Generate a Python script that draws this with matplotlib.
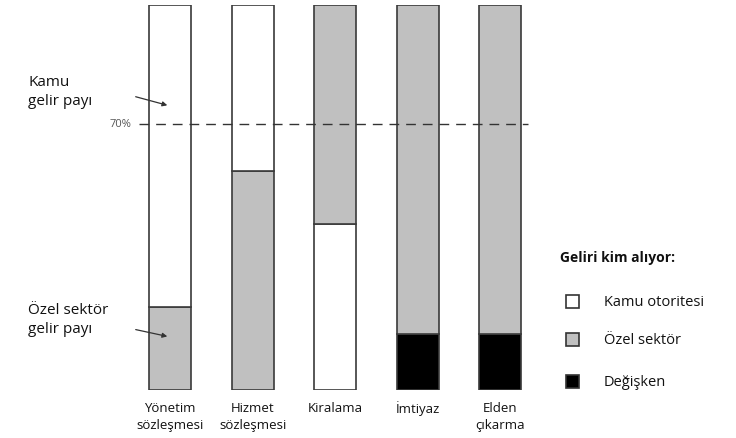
import matplotlib
matplotlib.use("Agg")
import matplotlib.pyplot as plt
from matplotlib.patches import Rectangle, FancyArrowPatch

plt.rcParams['font.family'] = ['Open Sans', 'DejaVu Sans']

categories = ["Yönetim\nsözleşmesi", "Hizmet\nsözleşmesi", "Kiralama", "İmtiyaz", "Elden\nçıkarma"]
kamu = [0.785, 0.43, 0.43, 0.0, 0.0]
ozel = [0.215, 0.57, 0.57, 0.855, 0.855]
degisken = [0.0, 0.0, 0.0, 0.145, 0.145]
stack_order = [["ozel", "kamu"], ["ozel", "kamu"], ["kamu", "ozel"],
               ["degisken", "ozel"], ["degisken", "ozel"]]
threshold = 0.69
threshold_label = "70%"
legend_title = "Geliri kim alıyor:"
legend_labels = {"kamu": "Kamu otoritesi", "ozel": "Özel sektör", "degisken": "Değişken"}
colors = {"kamu": "#ffffff", "ozel": "#c0c0c0", "degisken": "#000000"}
series = {"kamu": kamu, "ozel": ozel, "degisken": degisken}

fig = plt.figure(figsize=(7.36, 4.38), dpi=100)
W, H = 736, 438
ax = fig.add_axes([128.75 / W, (H - 390) / H, 412.5 / W, 385 / H])
ax.set_xlim(-0.5, len(categories) - 0.5)
ax.set_ylim(0, 1)
ax.axis('off')

width = 42 / 82.5
for i, order in enumerate(stack_order):
    bottom = 0.0
    for key in order:
        v = series[key][i]
        if v <= 0:
            continue
        ax.bar(i, v, width=width, bottom=bottom, color=colors[key],
               edgecolor="#3a3a3a", linewidth=1.2, zorder=2)
        bottom += v

ax.axhline(threshold, xmin=0.025, xmax=0.967, color="#333333", lw=1.0,
           linestyle=(0, (7, 5)), zorder=3)
ax.text(-0.47, threshold, threshold_label, ha='right', va='center',
        fontsize=8, color="#555555")

for i, c in enumerate(categories):
    ax.text(i, -0.03, c, ha='center', va='top', fontsize=9.5, linespacing=1.4,
            color="#111111")

def px(x, y):
    return (x / W, 1 - y / H)

fig.text(*px(28, 92), "Kamu\ngelir payı", fontsize=11, va='center', ha='left',
         linespacing=1.3, color="#111111")
fig.text(*px(28, 320), "Özel sektör\ngelir payı", fontsize=11, va='center', ha='left',
         linespacing=1.3, color="#111111")
fig.add_artist(FancyArrowPatch(px(133, 96), px(170, 106),
               transform=fig.transFigure, arrowstyle='-|>', mutation_scale=7,
               color="#333333", lw=0.9))
fig.add_artist(FancyArrowPatch(px(133, 329), px(170, 337),
               transform=fig.transFigure, arrowstyle='-|>', mutation_scale=7,
               color="#333333", lw=0.9))

fig.text(*px(560, 258), legend_title, fontsize=10, fontweight='bold', va='center',
         ha='left', color="#111111")
for j, key in enumerate(["kamu", "ozel", "degisken"]):
    y = [301, 339, 381][j]
    fig.add_artist(Rectangle(px(565.5, y + 6.5), 13 / W, 13 / H, transform=fig.transFigure,
                             facecolor=colors[key], edgecolor="#333333", lw=1.2))
    fig.text(*px(604, y + 1), legend_labels[key], fontsize=10.5, va='center', ha='left',
             color="#111111")

fig.savefig("out.png", dpi=100)
